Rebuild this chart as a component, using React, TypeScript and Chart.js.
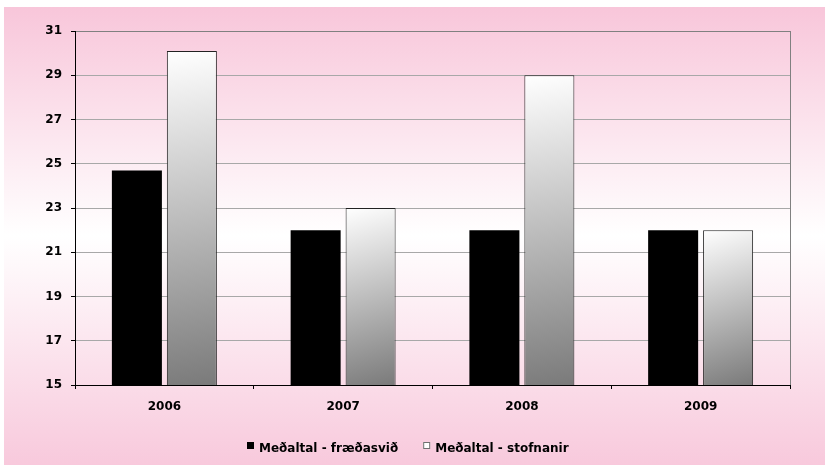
import React, { useEffect, useRef } from 'react';
import { Chart, registerables } from 'chart.js';

Chart.register(...registerables);

const categories = ['2006', '2007', '2008', '2009'];
const fraedasvid = [24.7, 22, 22, 22];
const stofnanir = [30.1, 23, 29, 22];
const seriesLabels = ['Meðaltal - fræðasvið', 'Meðaltal - stofnanir'];
const yMin = 15;
const yMax = 31;
const yStep = 2;

const FONT = '"DejaVu Sans", sans-serif';
const CAT_PCT = 0.615;
const BAR_PCT = 0.91;

const plotBorderPlugin = {
  id: 'plotBorder',
  beforeDatasetsDraw(chart: any) {
    const { ctx, chartArea } = chart;
    ctx.save();
    ctx.strokeStyle = '#808080';
    ctx.lineWidth = 1;
    ctx.beginPath();
    ctx.moveTo(Math.round(chartArea.right) + 0.5, chartArea.top);
    ctx.lineTo(Math.round(chartArea.right) + 0.5, chartArea.bottom);
    ctx.stroke();
    ctx.restore();
  },
};

const legendPlugin = {
  id: 'customLegend',
  afterDraw(chart: any) {
    const ctx = chart.ctx;
    ctx.save();
    ctx.font = `bold 12px ${FONT}`;
    const box = 7;
    const gap = 5;
    const spacing = 25;
    const widths = seriesLabels.map((t) => ctx.measureText(t).width);
    const total = widths.reduce((a, w) => a + box + gap + w, 0) + spacing * (seriesLabels.length - 1);
    let x = Math.round(chart.width / 2 - total / 2 - 7);
    const boxTop = 435;
    const textMid = 442;
    seriesLabels.forEach((t, i) => {
      if (i === 0) {
        ctx.fillStyle = '#000';
        ctx.fillRect(x, boxTop, box, box);
      } else {
        ctx.fillStyle = '#fff';
        ctx.fillRect(x, boxTop, box, box);
        ctx.strokeStyle = '#707070';
        ctx.lineWidth = 1;
        ctx.strokeRect(x + 0.5, boxTop + 0.5, box - 1, box - 1);
      }
      ctx.fillStyle = '#000';
      ctx.textBaseline = 'middle';
      ctx.textAlign = 'left';
      ctx.fillText(t, x + box + gap, textMid);
      x += box + gap + widths[i] + spacing;
    });
    ctx.restore();
  },
};

function whiteBarFill(c: any) {
  const chart = c.chart;
  const scales = chart.scales;
  if (c.type !== 'data' || !scales || !scales.x || !scales.y || !chart.chartArea) return '#cccccc';
  const xs = scales.x;
  const ys = scales.y;
  const catW = (chart.chartArea.right - chart.chartArea.left) / categories.length;
  const slot = (catW * CAT_PCT) / 2;
  const center = xs.getPixelForValue(c.dataIndex) + slot / 2;
  const w = slot * BAR_PCT;
  const top = ys.getPixelForValue(c.raw);
  const bottom = ys.getPixelForValue(yMin);
  const g = chart.ctx.createLinearGradient(center - w / 2, top, center + w / 2, bottom);
  g.addColorStop(0, '#ffffff');
  g.addColorStop(1, '#7a7a7a');
  return g;
}

export default function App() {
  const ref = useRef<HTMLCanvasElement | null>(null);

  useEffect(() => {
    if (!ref.current) return;
    const chart = new Chart(ref.current, {
      type: 'bar',
      data: {
        labels: categories,
        datasets: [
          {
            label: seriesLabels[0],
            data: fraedasvid,
            backgroundColor: '#000000',
            borderWidth: 0,
            categoryPercentage: CAT_PCT,
            barPercentage: BAR_PCT,
          },
          {
            label: seriesLabels[1],
            data: stofnanir,
            backgroundColor: whiteBarFill,
            borderColor: '#222222',
            borderWidth: 1,
            categoryPercentage: CAT_PCT,
            barPercentage: BAR_PCT,
          },
        ],
      },
      options: {
        responsive: false,
        animation: false,
        layout: { padding: { left: 0, right: 35, top: 24, bottom: 36 } },
        plugins: {
          legend: { display: false },
          tooltip: { enabled: false },
        },
        scales: {
          x: {
            grid: {
              display: true,
              drawOnChartArea: false,
              drawTicks: true,
              tickLength: 4,
              tickColor: '#000',
              offset: true,
            },
            border: { color: '#000', width: 1 },
            ticks: {
              color: '#000',
              font: { family: FONT, size: 12, weight: 'bold' },
              padding: 11,
            },
            afterFit: (axis: any) => {
              axis.height = 44;
            },
          },
          y: {
            min: yMin,
            max: yMax,
            ticks: {
              stepSize: yStep,
              color: '#000',
              font: { family: FONT, size: 12, weight: 'bold' },
              padding: 9,
            },
            grid: {
              color: (c: any) => (c.tick && c.tick.value === yMax ? '#808080' : '#a8a8a8'),
              tickColor: '#000',
              tickLength: 4,
              drawTicks: true,
            },
            border: { color: '#000', width: 1 },
            afterFit: (axis: any) => {
              axis.width = 71;
            },
          },
        },
      },
      plugins: [plotBorderPlugin, legendPlugin],
    });
    return () => chart.destroy();
  }, []);

  return (
    <div
      style={{
        position: 'fixed',
        left: 4,
        top: 7,
        width: 821,
        height: 458,
        background: 'linear-gradient(to bottom, #f8c6da 0%, #ffffff 50%, #f8c9dc 100%)',
      }}
    >
      <canvas ref={ref} width={821} height={458} style={{ display: 'block' }} />
    </div>
  );
}
